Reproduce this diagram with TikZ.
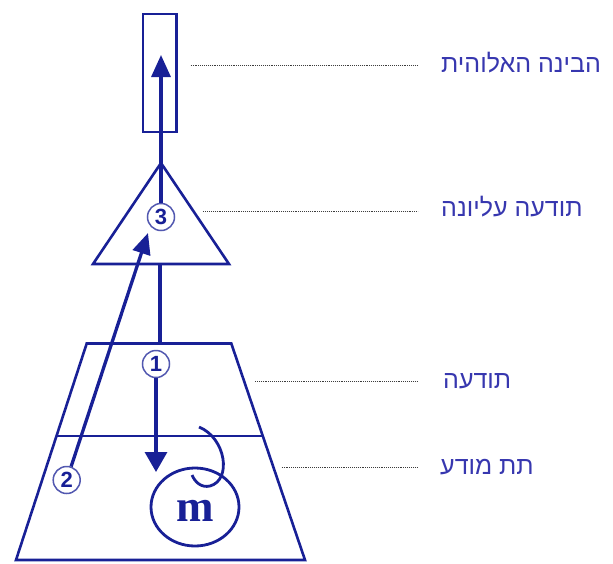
\documentclass[tikz,border=0pt]{standalone}
\usepackage{fontspec}
\setmainfont{Liberation Sans}
\newfontfamily\hebfont[Script=Hebrew]{Liberation Sans}
\newfontfamily\mfont{Liberation Serif}
\TeXXeTstate=1
\usetikzlibrary{arrows.meta,shapes.geometric}
\definecolor{navy}{RGB}{24,32,150}
\definecolor{lblue}{RGB}{55,55,175}
\definecolor{dotc}{RGB}{60,60,60}
\begin{document}
\begin{tikzpicture}[x=1pt,y=-1pt,
  shapeline/.style={draw=navy, line width=2.6pt, line join=miter},
  flow/.style={draw=navy, line width=3.3pt},
  numc/.style={circle, draw=navy!75, line width=1.5pt, minimum size=27pt, inner sep=0pt,
               font=\bfseries\fontsize{22}{22}\selectfont, text=navy, fill=white},
  lbl/.style={anchor=base west, text=lblue, font=\hebfont\fontsize{25}{25}\selectfont, inner sep=0pt},
  guide/.style={draw=dotc, line width=0.9pt, dash pattern=on 0.9pt off 1pt}]
\useasboundingbox (0,0) rectangle (613,563);

% divine box
\node[shapeline, rectangle, minimum width=33.4pt, minimum height=118pt, inner sep=0pt] (box) at (159.5,72.8) {};

% triangle
\coordinate (tA) at (161,163);
\coordinate (tL) at (93,264);
\coordinate (tR) at (229,264);
\draw[shapeline] (tA) -- (tL) -- (tR) -- cycle;

% trapezoid
\coordinate (zTL) at (86.7,343.5);
\coordinate (zTR) at (231.3,343.5);
\coordinate (zBR) at (305,560);
\coordinate (zBL) at (16,560);
\draw[shapeline] (zTL) -- (zTR) -- (zBR) -- (zBL) -- cycle;
\coordinate (mL) at (57,436);
\coordinate (mR) at (262,436);
\draw[shapeline] (mL) -- (mR);

% vertical link between trapezoid and triangle
\coordinate (vBot) at (160,343.5);
\coordinate (vTop) at (160,264);
\draw[flow] (vBot) -- (vTop);

% memory loop
\node[ellipse, draw=navy, line width=2.8pt, minimum width=88pt, minimum height=78pt, inner sep=0pt] (mloop) at (195,507) {};
\draw[draw=navy, line width=2.8pt] (199,427) .. controls (226,438) and (232,480) .. (210,486)
   .. controls (201,488) and (195,482) .. (192,475);
\node[text=navy, font=\mfont\bfseries\fontsize{45}{45}\selectfont, inner sep=0pt, anchor=base] (mtext) at (195,521.5) {m};

% numbered circles
\node[numc] (c3) at (161,217) {3};
\node[numc] (c1) at (156,364) {1};
\node[numc] (c2) at (66.7,480) {2};

% arrows
\coordinate (tipTop) at (161,55);
\coordinate (tip1) at (156,472);
\coordinate (tip2) at (148,233);
\draw[flow, -{Triangle[length=22pt,width=19pt]}] (c3.north) -- (tipTop);
\draw[flow, -{Triangle[length=20pt,width=22pt]}] (c1.south) -- (tip1);
\draw[flow, -{Triangle[length=21pt,width=18pt]}] (c2) -- (tip2);

% labels
\node[lbl] (l1) at (441,72.5) {\beginR הבינה האלוהית\endR};
\node[lbl] (l2) at (441,216.5) {\beginR תודעה עליונה\endR};
\node[lbl] (l3) at (443,388) {\beginR תודעה\endR};
\node[lbl] (l4) at (440,474.5) {\beginR תת מודע\endR};

% dotted guides
\coordinate (g1) at (190.7,65);
\coordinate (g2) at (203.3,211);
\coordinate (g3) at (255,381);
\coordinate (g4) at (281.7,467.3);
\draw[guide] (g1) -- (g1 -| 418,0);
\draw[guide] (g2) -- (g2 -| 418,0);
\draw[guide] (g3) -- (g3 -| 418,0);
\draw[guide] (g4) -- (g4 -| 418,0);
\end{tikzpicture}
\end{document}
